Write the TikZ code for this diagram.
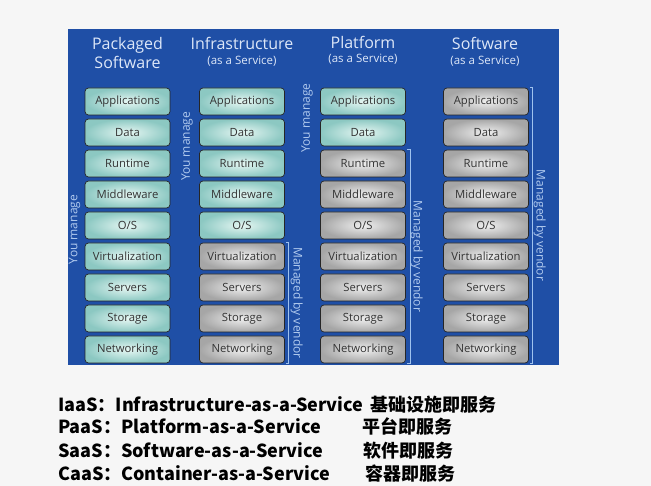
\documentclass[tikz,border=0pt]{standalone}
\usepackage{fontspec}
\setmainfont{Open Sans}
\newfontfamily\cjk{Noto Sans CJK SC}
\usetikzlibrary{calc}

\definecolor{bgwhite}{HTML}{F6F6F6}
\definecolor{panelblue}{HTML}{1F4FA6}
\definecolor{cyanlite}{HTML}{E6F7F3}
\definecolor{cyandark}{HTML}{8CC8C2}
\definecolor{greylite}{HTML}{EFEFEF}
\definecolor{greydark}{HTML}{A6A6A6}
\definecolor{headtext}{HTML}{DDE7F8}
\definecolor{sidetext}{HTML}{B2CBEF}
\definecolor{brackline}{HTML}{9FC2EE}

\tikzset{
    layer/.style={draw=black!85, line width=0.7pt, rounded corners=3.5pt, minimum width=85pt, minimum height=27pt, inner sep=0pt, text=black!80, font=\fontsize{11.3}{13}\selectfont},
    head/.style={text=headtext, align=center, font=\fontsize{16}{19}\selectfont},
    sub/.style={text=headtext, font=\fontsize{11.5}{13}\selectfont},
    bracket/.style={draw=brackline, line width=0.8pt},
    side/.style={text=sidetext, font=\fontsize{12}{14}\selectfont},
    legend/.style={anchor=base west, inner sep=0pt, font=\cjk\bfseries\fontsize{18}{20}\selectfont}
}

\begin{document}
\begin{tikzpicture}[x=1pt,y=-1pt]
        \useasboundingbox (0,0) rectangle (651,486);
        \fill[bgwhite] (0,0) rectangle (651,486);

        % --- BLUE PANEL ---
        \fill[panelblue] (68,29) rectangle (559,365);

        % --- COLUMN HEADERS ---
        \node[head] (pkg-head) at (127.5,53.5) {Packaged\\Software};
        \node[head] (iaas-head) at (242,43) {Infrastructure};
        \node[sub] (iaas-sub) at (242,61) {(as a Service)};
        \node[head] (paas-head) at (363,42) {Platform};
        \node[sub] (paas-sub) at (363,59) {(as a Service)};
        \node[head] (saas-head) at (485,43) {Software};
        \node[sub] (saas-sub) at (485,61) {(as a Service)};

        % --- LAYER STACKS (first \n rows are yours, the rest the vendor's) ---
        \foreach \col/\cx/\n in {pkg/127.5/9, iaas/242/5, paas/363/2, saas/486/0} {
            \foreach \lbl [count=\r] in {Applications,Data,Runtime,Middleware,O/S,Virtualization,Servers,Storage,Networking} {
                \ifnum\r>\n
                    \def\lite{greylite}\def\dark{greydark}
                \else
                    \def\lite{cyanlite}\def\dark{cyandark}
                \fi
                \node[layer, inner color=\lite, outer color=\dark] (\col-\r) at (\cx,70.5+31*\r) {\lbl};
            }
        }

        % --- YOU MANAGE ---
        \node[side, rotate=90] (pkg-you) at ($(pkg-1.north west)!0.5!(pkg-9.south west)+(-10,4)$) {You manage};
        \node[side, rotate=90] (iaas-you) at ($(iaas-2.south west)+(-12,0)$) {You manage};
        \node[side, rotate=90] (paas-you) at ($(paas-1.north west)!0.5!(paas-2.south west)+(-13,1)$) {You manage};

        % --- MANAGED BY VENDOR ---
        \draw[bracket] ([xshift=1pt]iaas-6.north east) -| ([xshift=4pt]iaas-9.south east) -- ([xshift=1pt]iaas-9.south east);
        \node[side, rotate=-90] (iaas-vend) at ($(iaas-6.north east)!0.5!(iaas-9.south east)+(12,0)$) {Managed by vendor};

        \draw[bracket] ([xshift=1pt]paas-3.north east) -| ([xshift=5pt]paas-9.south east) -- ([xshift=1pt]paas-9.south east);
        \node[side, rotate=-90] (paas-vend) at ($(paas-3.north east)!0.5!(paas-9.south east)+(11,0)$) {Managed by vendor};

        \draw[bracket] ([xshift=1pt]saas-1.north east) -| ([xshift=4pt]saas-9.south east) -- ([xshift=1pt]saas-9.south east);
        \node[side, rotate=-90] (saas-vend) at ($(saas-1.north east)!0.5!(saas-9.south east)+(11,0)$) {Managed by vendor};

        % --- LEGEND ---
        \foreach \ab/\full/\zh/\zx [count=\i] in {IaaS/Infrastructure/基础设施即服务/370, PaaS/Platform/平台即服务/362, SaaS/Software/软件即服务/363, CaaS/Container/容器即服务/365} {
            \node[legend] (\ab-en) at (58,388+23*\i) {\ab：\full-as-a-Service};
            \node[legend] (\ab-zh) at (\zx,388+23*\i) {\zh};
        }
\end{tikzpicture}
\end{document}
